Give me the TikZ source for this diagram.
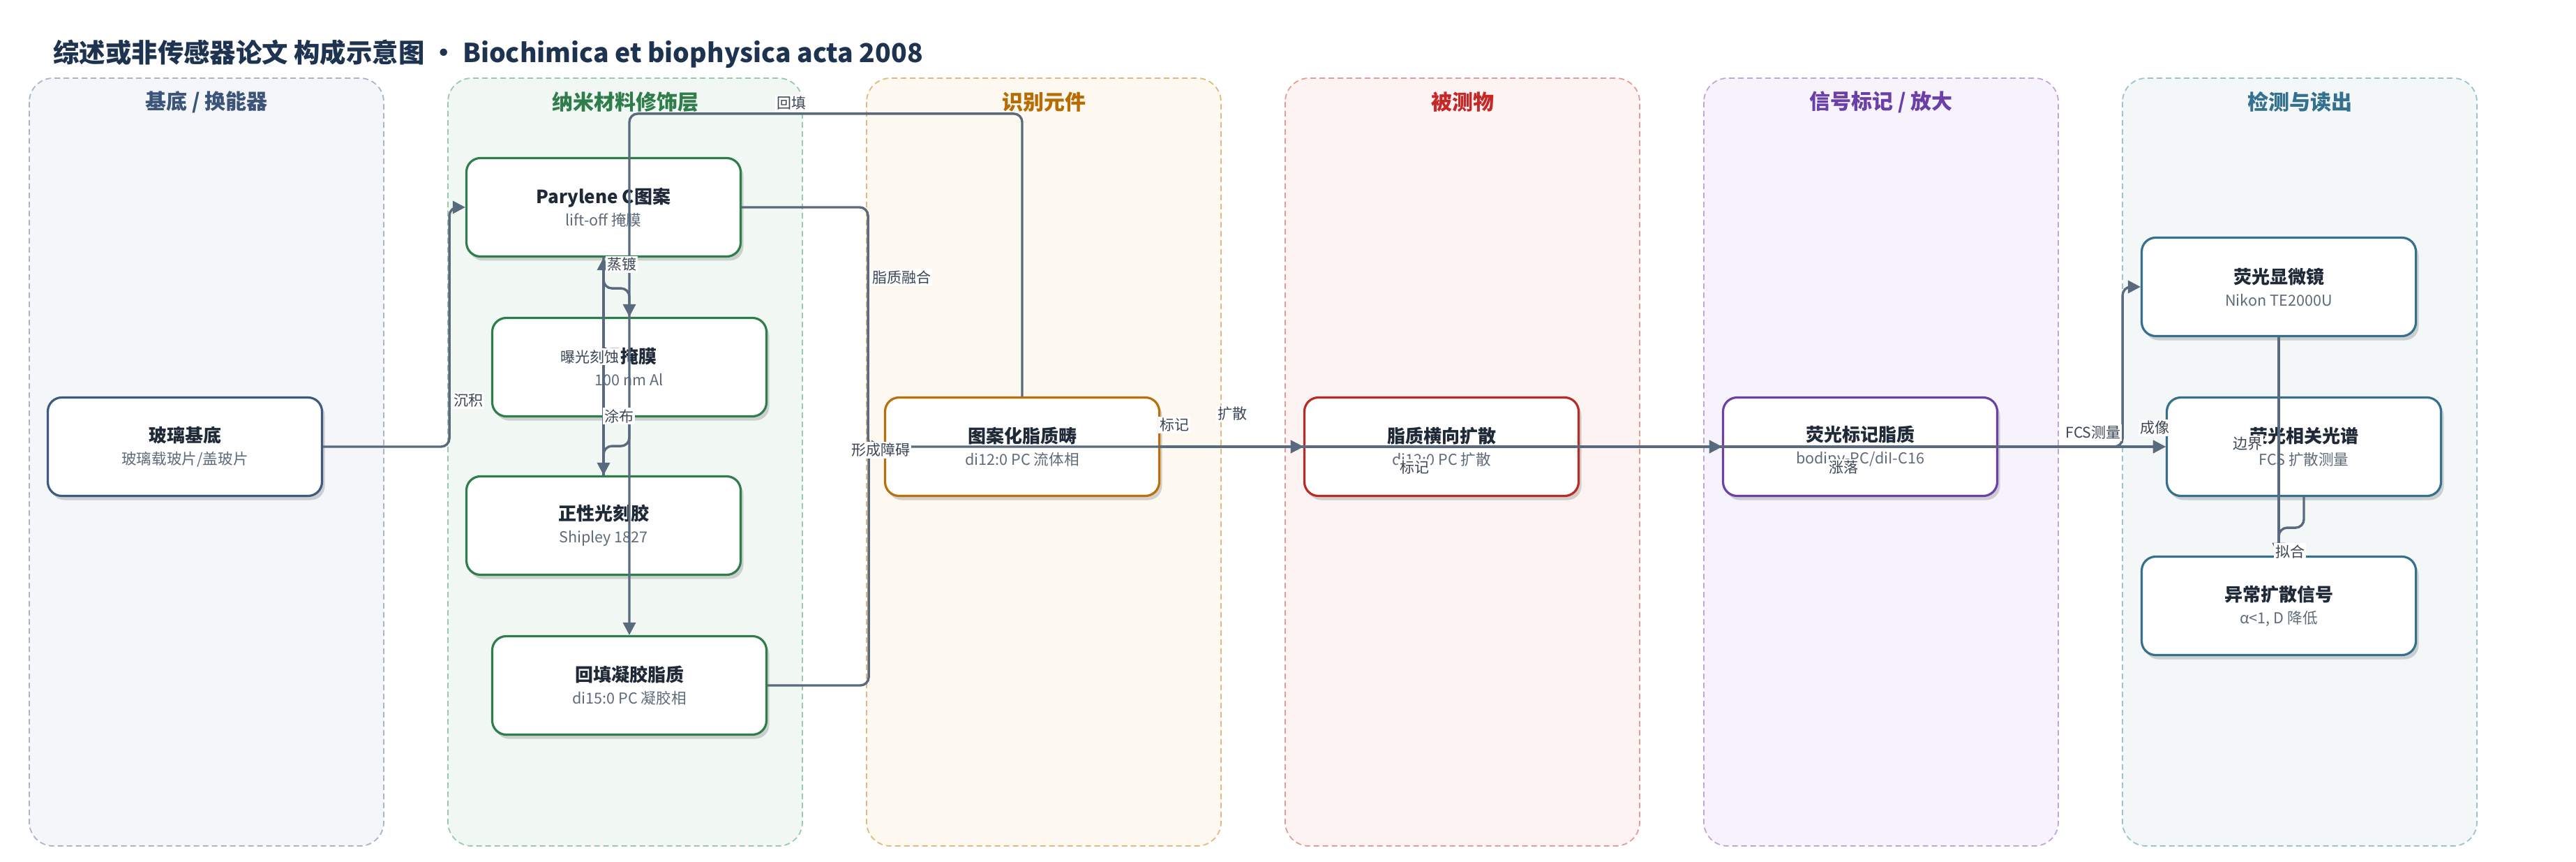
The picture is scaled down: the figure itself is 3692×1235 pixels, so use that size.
\documentclass[tikz,border=0pt]{standalone}
\usepackage{fontspec}
\setmainfont{Noto Sans CJK SC}
\usetikzlibrary{arrows.meta,shadows}

\definecolor{edgec}{HTML}{5A6A7E}
\definecolor{labc}{HTML}{3C4655}
\definecolor{titc}{HTML}{1E3350}
\definecolor{nttc}{HTML}{1F2937}
\definecolor{subc}{HTML}{5F6B7A}
% lanes: fill / dash / title / node border
\definecolor{laFf}{HTML}{F4F6FA}\definecolor{laFd}{HTML}{A9B6C9}\definecolor{laFt}{HTML}{3B5478}\definecolor{laFn}{HTML}{3E5A80}
\definecolor{lbFf}{HTML}{F1F8F3}\definecolor{lbFd}{HTML}{9DC9AB}\definecolor{lbFt}{HTML}{2E7D4A}\definecolor{lbFn}{HTML}{2E7D4A}
\definecolor{lcFf}{HTML}{FDF8F0}\definecolor{lcFd}{HTML}{E3B97E}\definecolor{lcFt}{HTML}{B86B00}\definecolor{lcFn}{HTML}{B8700C}
\definecolor{ldFf}{HTML}{FDF3F2}\definecolor{ldFd}{HTML}{E39C98}\definecolor{ldFt}{HTML}{C62828}\definecolor{ldFn}{HTML}{B82B26}
\definecolor{leFf}{HTML}{F7F3FC}\definecolor{leFd}{HTML}{C2A5DD}\definecolor{leFt}{HTML}{6B3FA8}\definecolor{leFn}{HTML}{6B40A8}
\definecolor{lfFf}{HTML}{F3F7F8}\definecolor{lfFd}{HTML}{9FC0CD}\definecolor{lfFt}{HTML}{33718E}\definecolor{lfFn}{HTML}{35708D}

\newcommand{\ttl}[1]{{\fontsize{13}{16}\selectfont\bfseries\color{nttc}#1}}
\newcommand{\stl}[1]{{\fontsize{10.8}{16}\selectfont\color{subc}#1}}

\begin{document}
\begin{tikzpicture}[x=0.5pt,y=-0.5pt,
  lane/.style={draw=#1,line width=0.9pt,dash pattern=on 4pt off 2.5pt,rounded corners=17pt},
  lanetitle/.style={font=\fontsize{15}{18}\selectfont\bfseries,text=#1,inner sep=0pt},
  box/.style={draw=#1,line width=1.6pt,fill=white,rounded corners=10pt,
    minimum width=196.5pt,minimum height=70.5pt,inner sep=0pt,align=center,
    font=\fontsize{11}{16}\selectfont,
    drop shadow={shadow xshift=2pt,shadow yshift=-3pt,opacity=.16,fill=black}},
  edge/.style={draw=edgec,line width=1.7pt,rounded corners=6pt,-{Triangle[length=9pt,width=9pt]}},
  elab/.style={fill=white,inner sep=1pt,text=labc,font=\fontsize{10.5}{12}\selectfont}]
  \useasboundingbox (0,0) rectangle (3692,1235);

  \node[anchor=west,inner sep=0pt,text=titc,font=\fontsize{18.7}{22}\selectfont\bfseries] (title)
    at (76,77) {综述或非传感器论文 构成示意图 • Biochimica et biophysica acta 2008};

  % lanes
  \draw[lane=laFd,fill=laFf] (42,112) rectangle (550,1212);
  \draw[lane=lbFd,fill=lbFf] (642,112) rectangle (1150,1212);
  \draw[lane=lcFd,fill=lcFf] (1242,112) rectangle (1750,1212);
  \draw[lane=ldFd,fill=ldFf] (1842,112) rectangle (2350,1212);
  \draw[lane=leFd,fill=leFf] (2442,112) rectangle (2950,1212);
  \draw[lane=lfFd,fill=lfFf] (3042,112) rectangle (3550,1212);
  \node[lanetitle=laFt] (ta) at (296,146) {基底 / 换能器};
  \node[lanetitle=lbFt] (tb) at (896,146) {纳米材料修饰层};
  \node[lanetitle=lcFt] (tc) at (1496,146) {识别元件};
  \node[lanetitle=ldFt] (td) at (2096,146) {被测物};
  \node[lanetitle=leFt] (te) at (2696,146) {信号标记 / 放大};
  \node[lanetitle=lfFt] (tf) at (3296,146) {检测与读出};

  % nodes
  \node[box=laFn] (glass) at (265,640) {\ttl{玻璃基底}\\\stl{玻璃载玻片/盖玻片}};
  \node[box=lbFn] (par) at (865,297) {\ttl{Parylene C图案}\\\stl{lift-off 掩膜}};
  \node[box=lbFn] (mask) at (902,526) {\ttl{铝掩膜}\\\stl{100 nm Al}};
  \node[box=lbFn] (resist) at (865,753) {\ttl{正性光刻胶}\\\stl{Shipley 1827}};
  \node[box=lbFn] (backfill) at (902,982) {\ttl{回填凝胶脂质}\\\stl{di15:0 PC 凝胶相}};
  \node[box=lcFn] (dom) at (1465,640) {\ttl{图案化脂质畴}\\\stl{di12:0 PC 流体相}};
  \node[box=ldFn] (lat) at (2066,640) {\ttl{脂质横向扩散}\\\stl{di12:0 PC 扩散}};
  \node[box=leFn] (flu) at (2666,640) {\ttl{荧光标记脂质}\\\stl{bodipy-PC/diI-C16}};
  \node[box=lfFn] (mic) at (3266,411) {\ttl{荧光显微镜}\\\stl{Nikon TE2000U}};
  \node[box=lfFn] (fcs) at (3302,640) {\ttl{荧光相关光谱}\\\stl{FCS 扩散测量}};
  \node[box=lfFn] (anom) at (3266,868) {\ttl{异常扩散信号}\\\stl{α<1, D 降低}};

  % connectors
  \draw[edge] (glass.east) -- ++(181,0) |- (par.west);
  \draw[edge] (par.south) -- ++(0,44) -| (mask.north);
  \draw[edge] (mask.south) -- ++(0,41) -| (resist.north);
  \draw[edge] (resist.north) -- (par.south);
  \draw[edge] (par.east) -- ++(181,0) |- (dom.west);
  \draw[edge] (dom.north) -- ++(0,-405) -| (backfill.north);
  \draw[edge] (backfill.east) -- ++(145,0) |- (lat.west);
  \draw[edge] (dom.east) -- (lat.west);
  \draw[edge] (dom.east) -- (flu.west);
  \draw[edge] (lat.east) -- (flu.west);
  \draw[edge] (lat.east) -- (fcs.west);
  \draw[edge] (flu.east) -- (fcs.west);
  \draw[edge] (flu.east) -- ++(178,0) |- (mic.west);
  \draw[edge] (mic.south) -- (anom.north);
  \draw[edge] (fcs.south) -- ++(0,44) -| (anom.north);

  % connector labels
  \node[elab] (l1) at (671,574) {沉积};
  \node[elab] (l2) at (891,379) {蒸镀};
  \node[elab] (l3) at (887,596) {涂布};
  \node[elab] (l4) at (845,511) {曝光刻蚀};
  \node[elab] (l5) at (1292,397) {脂质融合};
  \node[elab] (l6) at (1134,148) {回填};
  \node[elab] (l7) at (1262,645) {形成障碍};
  \node[elab] (l8) at (1766,593) {扩散};
  \node[elab] (l9) at (1683,609) {标记};
  \node[elab] (l10) at (2027,670) {标记};
  \node[elab] (l11) at (2642,670) {涨落};
  \node[elab] (l12) at (3000,620) {FCS测量};
  \node[elab] (l13) at (3088,613) {成像};
  \node[elab] (l14) at (3221,636) {边界};
  \node[elab] (l15) at (3282,790) {拟合};
\end{tikzpicture}
\end{document}
